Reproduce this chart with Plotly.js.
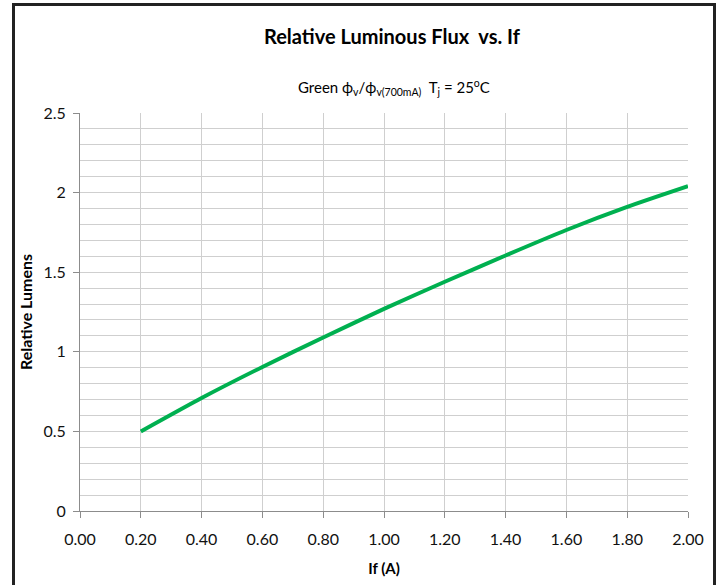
<!DOCTYPE html>
<html>
<head>
<meta charset="utf-8">
<script src="https://cdn.plot.ly/plotly-3.0.1.min.js"></script>
<style>
html,body{margin:0;padding:0;background:#fff;}
#chart{width:722px;height:585px;}
</style>
</head>
<body>
<div id="chart"></div>
<script>
// Data
const currentA = [0.2, 0.4, 0.6, 0.8, 1.0, 1.2, 1.4, 1.6, 1.8, 2.0];
const relativeLumens = [0.50, 0.71, 0.905, 1.09, 1.27, 1.44, 1.605, 1.765, 1.91, 2.04];
const xTickVals = [0, 0.2, 0.4, 0.6, 0.8, 1.0, 1.2, 1.4, 1.6, 1.8, 2.0];
const xTickText = ["0.00","0.20","0.40","0.60","0.80","1.00","1.20","1.40","1.60","1.80","2.00"];
const yTickVals = [0, 0.5, 1, 1.5, 2, 2.5];
const yTickText = ["0","0.5","1","1.5","2","2.5"];

const FONT = "Lato, 'Open Sans', sans-serif";
const GRID = "#cfcfcf";
const AXIS = "#8c8c8c";

const trace = {
  x: currentA,
  y: relativeLumens,
  type: "scatter",
  mode: "lines",
  line: {color: "#00b050", width: 4, shape: "spline", smoothing: 0.6},
  hoverinfo: "x+y",
  showlegend: false
};

const layout = {
  width: 722,
  height: 585,
  margin: {l: 80, r: 34, t: 113, b: 74},
  paper_bgcolor: "#ffffff",
  plot_bgcolor: "#ffffff",
  font: {family: FONT, size: 16, color: "#111"},
  showlegend: false,
  xaxis: {
    range: [0, 2.0],
    tickvals: xTickVals,
    ticktext: xTickText,
    showgrid: true,
    gridcolor: GRID,
    gridwidth: 1,
    zeroline: false,
    showline: true,
    linecolor: AXIS,
    linewidth: 1,
    ticks: "outside",
    ticklen: 6,
    tickcolor: AXIS,
    ticklabelstandoff: 8,
    tickfont: {family: FONT, size: 16, color: "#111"},
    title: {text: "<b>If (A)</b>", font: {family: FONT, size: 15, color: "#000"}, standoff: 16}
  },
  yaxis: {
    range: [0, 2.5],
    tickvals: yTickVals,
    ticktext: yTickText,
    showgrid: true,
    gridcolor: GRID,
    gridwidth: 1,
    minor: {dtick: 0.1, showgrid: true, gridcolor: GRID, gridwidth: 1, ticks: ""},
    zeroline: false,
    showline: true,
    linecolor: AXIS,
    linewidth: 1,
    ticks: "outside",
    ticklen: 6,
    tickcolor: AXIS,
    ticklabelstandoff: 4,
    tickfont: {family: FONT, size: 16, color: "#111"},
    title: {text: "<b>Relative Lumens</b>", font: {family: FONT, size: 16, color: "#000"}, standoff: 6}
  },
  annotations: [
    {
      xref: "paper", yref: "paper",
      x: (392 - 80) / 608, y: (511 - 36) / 398,
      xanchor: "center", yanchor: "middle",
      text: "<b>Relative Luminous Flux  vs. If</b>",
      showarrow: false,
      font: {family: FONT, size: 20, color: "#000"}
    },
    {
      xref: "paper", yref: "paper",
      x: (394 - 80) / 608, y: (511 - 87) / 398,
      xanchor: "center", yanchor: "middle",
      text: "Green ϕ<sub>v</sub>/ϕ<sub>v(700mA)</sub>  T<sub>j</sub> = 25<sup>o</sup>C",
      showarrow: false,
      font: {family: FONT, size: 15, color: "#000"}
    }
  ],
  shapes: [
    {
      type: "rect", xref: "paper", yref: "paper", layer: "above",
      x0: (13.5 - 80) / 608, x1: (714.5 - 80) / 608,
      y0: (511 - 620) / 398, y1: (511 - 4.5) / 398,
      line: {color: "#222222", width: 3},
      fillcolor: "rgba(0,0,0,0)"
    }
  ]
};

Plotly.newPlot("chart", [trace], layout, {displayModeBar: false, staticPlot: true});
</script>
</body>
</html>
